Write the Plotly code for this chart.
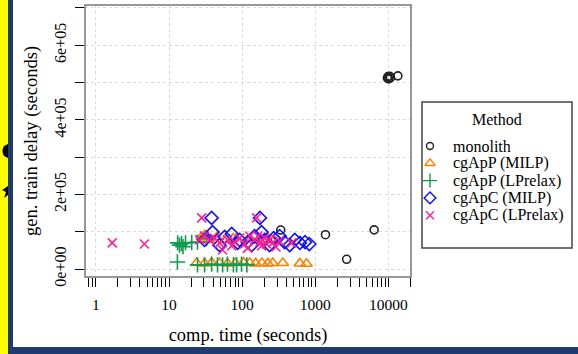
import plotly.graph_objects as go

# ---- data ----
mono_x = [337, 1380, 2690, 6400, 9700, 9900, 10100, 10400, 10700, 13500]
mono_y = [1.045e5, 0.92e5, 0.26e5, 1.05e5, 5.12e5, 5.16e5, 5.10e5, 5.17e5, 5.13e5, 5.18e5]

appm_x = [23.8, 30.6, 38.2, 49, 63, 81, 105, 127, 153, 186, 225, 262, 360, 616, 760,
          28, 31, 35, 45, 60, 75, 130, 170, 250]
appm_y = [0.16e5, 0.15e5, 0.17e5, 0.16e5, 0.15e5, 0.16e5, 0.17e5, 0.16e5, 0.15e5, 0.16e5,
          0.15e5, 0.16e5, 0.16e5, 0.15e5, 0.14e5,
          0.86e5, 0.91e5, 0.80e5, 0.85e5, 0.78e5, 0.82e5, 0.80e5, 0.78e5, 0.78e5]

appl_x = [13.1, 14.8, 16.8, 20.4, 24.5, 32.6, 15.5, 13.9,
          13.0, 24.5, 30.6, 38.2, 46, 54, 63, 76, 84, 98, 116]
appl_y = [0.70e5, 0.68e5, 0.70e5, 0.71e5, 0.72e5, 0.82e5, 0.60e5, 0.64e5,
          0.19e5, 0.11e5, 0.11e5, 0.13e5, 0.11e5, 0.11e5, 0.13e5, 0.11e5, 0.11e5, 0.13e5, 0.11e5]

apcm_x = [38.2, 175, 39.4, 57.5, 72, 92.5, 119, 148, 184, 203, 237, 270, 325, 380,
          447, 525, 616, 725, 830, 30.6, 49, 87, 135]
apcm_y = [1.37e5, 1.37e5, 0.99e5, 0.86e5, 0.94e5, 0.78e5, 0.72e5, 0.885e5, 0.99e5, 0.78e5,
          0.64e5, 0.83e5, 0.885e5, 0.72e5, 0.64e5, 0.78e5, 0.70e5, 0.72e5, 0.67e5,
          0.78e5, 0.64e5, 0.70e5, 0.64e5]

apcl_x = [1.67, 4.6, 28, 158, 26.1, 30.6, 35.8, 42, 49, 54, 63, 79, 92.5, 108, 127,
          148, 164, 175, 184, 203, 216, 237, 262, 290, 325, 477, 72, 119]
apcl_y = [0.70e5, 0.67e5, 1.37e5, 1.37e5, 0.78e5, 0.885e5, 0.78e5, 0.83e5, 0.70e5, 0.51e5,
          0.78e5, 0.72e5, 0.83e5, 0.67e5, 0.885e5, 0.78e5, 0.885e5, 0.72e5, 0.62e5, 0.83e5,
          0.67e5, 0.78e5, 0.70e5, 0.59e5, 0.75e5, 0.70e5, 0.62e5, 0.56e5]

method_names = ["monolith", "cgApP (MILP)", "cgApP (LPrelax)", "cgApC (MILP)", "cgApC (LPrelax)"]
legend_title = "Method"

x_major = [1, 10, 100, 1000, 10000]
x_labels = ["1", "10", "100", "1000", "10000"]
y_vals = [0, 1e5, 2e5, 3e5, 4e5, 5e5, 6e5, 7e5]
y_labels = ["0e+00", "", "2e+05", "", "4e+05", "", "6e+05", ""]

FONT = "Liberation Serif, Times New Roman, serif"
W, H = 578, 354

symbols = ["circle-open", "triangle-up-open", "cross-thin-open", "diamond-open", "x-thin-open"]
colors = ["#222222", "#FF8000", "#0F9A50", "#1010FF", "#FF2090"]
sizes = [8, 10, 11, 10, 9]
leg_sizes = [7, 9, 10, 9, 8]

fig = go.Figure()
for name, xs, ys, sym, col, sz in zip(method_names,
                                       [mono_x, appm_x, appl_x, apcm_x, apcl_x],
                                       [mono_y, appm_y, appl_y, apcm_y, apcl_y],
                                       symbols, colors, sizes):
    fig.add_trace(go.Scatter(
        x=xs, y=ys, mode="markers", name=name, showlegend=False,
        marker=dict(symbol=sym, size=sz, color=col, line=dict(color=col, width=1.6)),
    ))

# ---- hand-drawn legend on a pixel-space overlay axis ----
leg_left, leg_right, leg_top, leg_bot = 422, 572, 102, 248
item_y0, item_dy = 146, 17.3
mk_x, txt_x = 430, 451
for i, (name, sym, col, sz) in enumerate(zip(method_names, symbols, colors, leg_sizes)):
    yy = item_y0 + i * item_dy
    fig.add_trace(go.Scatter(
        x=[mk_x], y=[yy], xaxis="x2", yaxis="y2", mode="markers", showlegend=False,
        hoverinfo="skip",
        marker=dict(symbol=sym, size=sz, color=col, line=dict(color=col, width=1.4)),
    ))
    fig.add_annotation(x=txt_x, y=yy, xref="x2", yref="y2", text=name, showarrow=False,
                       xanchor="left", yanchor="middle",
                       font=dict(family=FONT, size=16, color="black"))
fig.add_annotation(x=(leg_left + leg_right) / 2, y=119, xref="x2", yref="y2", text=legend_title,
                   showarrow=False, xanchor="center", yanchor="middle",
                   font=dict(family=FONT, size=16, color="black"))
fig.add_shape(type="rect", xref="x2", yref="y2", x0=leg_left, x1=leg_right, y0=leg_top, y1=leg_bot,
              line=dict(color="#444444", width=1.5), fillcolor="rgba(0,0,0,0)")

minor_vals = [m * 10 ** d for d in range(-1, 5) for m in range(2, 10)]

PL, PR, PT, PB = 85, 411, 5, 277

fig.update_layout(
    width=W, height=H,
    margin=dict(l=0, r=0, t=0, b=0),
    paper_bgcolor="white", plot_bgcolor="rgba(0,0,0,0)",
    font=dict(family=FONT, size=15, color="black"),
    showlegend=False,
    xaxis=dict(
        domain=[PL / W, PR / W], automargin=False,
        type="log", range=[-0.15, 4.31],
        tickvals=x_major, ticktext=x_labels,
        ticks="outside", ticklen=9, tickcolor="black", tickwidth=1,
        showline=False, zeroline=False,
        showgrid=True, gridcolor="#d9d9d9", griddash="dot", gridwidth=1,
        tickfont=dict(family=FONT, size=15.5), ticklabelstandoff=4,
        minor=dict(tickvals=minor_vals, ticks="outside", ticklen=9, tickcolor="black",
                   showgrid=False),
        title=dict(text="comp. time (seconds)", font=dict(family=FONT, size=18.5), standoff=16),
    ),
    yaxis=dict(
        domain=[(H - PB) / H, (H - PT) / H], automargin=False,
        range=[-0.214e5, 7.08e5],
        tickvals=y_vals, ticktext=y_labels, tickangle=-90,
        ticks="outside", ticklen=9, tickcolor="black", tickwidth=1,
        showline=False, zeroline=False,
        showgrid=True, gridcolor="#d9d9d9", griddash="dot", gridwidth=1,
        tickfont=dict(family=FONT, size=16), ticklabelstandoff=3,
        title=dict(text="gen. train delay (seconds)", font=dict(family=FONT, size=18.5), standoff=9),
    ),
    xaxis2=dict(domain=[0, 1], range=[0, W], visible=False, fixedrange=True, anchor="y2"),
    yaxis2=dict(domain=[0, 1], range=[H, 0], visible=False, fixedrange=True, anchor="x2"),
)

# plot box
fig.add_shape(type="rect", xref="x2", yref="y2", x0=PL, y0=PT, x1=PR, y1=PB,
              line=dict(color="#777777", width=1.5), fillcolor="rgba(0,0,0,0)", layer="above")

# page decorations (yellow strip, dark blue rules, stray glyphs)
fig.add_shape(type="rect", xref="x2", yref="y2", x0=0, x1=8, y0=0, y1=H,
              fillcolor="#FFFF00", line=dict(width=0), layer="below")
fig.add_shape(type="rect", xref="x2", yref="y2", x0=8, x1=13, y0=0, y1=H,
              fillcolor="#203A72", line=dict(width=0), layer="below")
fig.add_shape(type="rect", xref="x2", yref="y2", x0=8, x1=W, y0=347, y1=H,
              fillcolor="#203A72", line=dict(width=0), layer="below")
fig.add_shape(type="path", xref="x2", yref="y2",
              path="M 8 144 L 4 146 Q 1 151 4 156 L 8 158 Z",
              fillcolor="black", line=dict(width=0))
fig.add_shape(type="path", xref="x2", yref="y2",
              path="M 8 186 L 2 190 L 6 192 L 4 198 L 8 195 Z",
              fillcolor="black", line=dict(width=0))

fig.write_html("out.html",
               config={"displayModeBar": False, "staticPlot": True},
               post_script="document.body.style.margin='0px';document.body.style.overflow='hidden';")
